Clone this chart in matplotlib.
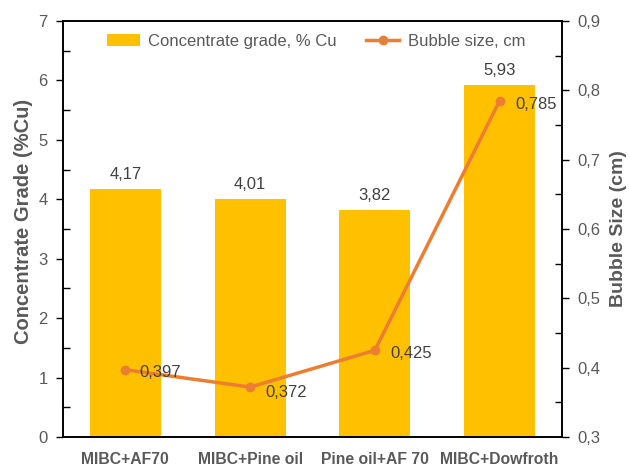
import matplotlib
matplotlib.use("Agg")
import matplotlib.pyplot as plt
from matplotlib.ticker import MultipleLocator, FuncFormatter

categories = ["MIBC+AF70", "MIBC+Pine oil", "Pine oil+AF 70", "MIBC+Dowfroth"]
grade = [4.17, 4.01, 3.82, 5.93]
bubble = [0.397, 0.372, 0.425, 0.785]

plt.rcParams['font.family'] = ['Liberation Sans', 'DejaVu Sans']
grey = '#595959'
dark = '#404040'

fig = plt.figure(figsize=(6.29, 4.66), dpi=100)
L, R, T, B = 63, 562, 21, 437
ax = fig.add_axes([L/629, 1-B/466, (R-L)/629, (B-T)/466])
x = list(range(len(categories)))
bars = ax.bar(x, grade, width=0.57, color='#FFC000', label='Concentrate grade, % Cu', zorder=1)
ax.set_xlim(-0.5, 3.5)
ax.set_ylim(0, 7)
ax.yaxis.set_major_locator(MultipleLocator(1))
ax.yaxis.set_minor_locator(MultipleLocator(0.5))
ax.set_xticks(x)
ax.set_xticklabels(categories, fontweight='bold', fontsize=11.3, color=grey)
ax.tick_params(axis='x', length=0, pad=11)
ax.tick_params(axis='y', which='major', direction='out', length=5, width=1, labelsize=12, colors='black', labelcolor=grey, pad=6)
ax.tick_params(axis='y', which='minor', direction='in', length=5, width=1, colors='black')
ax.set_ylabel('Concentrate Grade (%Cu)', fontweight='bold', fontsize=14.5, color=grey)
ax.yaxis.set_label_coords((33-L)/(R-L), (B-221)/(B-T))
for s in ax.spines.values():
    s.set_linewidth(1.2)
    s.set_color('black')
for xi, g in zip(x, grade):
    ax.annotate(f"{g:.2f}".replace('.', ','), (xi, g), xytext=(0, 5), textcoords='offset points',
                ha='center', va='bottom', fontsize=12, color=dark)

ax2 = ax.twinx()
ax2.set_ylim(0.3, 0.9)
line, = ax2.plot(x, bubble, color='#ED7D31', lw=2.5, marker='o', ms=6, label='Bubble size, cm', zorder=3)
ax2.yaxis.set_major_locator(MultipleLocator(0.1))
ax2.yaxis.set_minor_locator(MultipleLocator(0.05))
ax2.yaxis.set_major_formatter(FuncFormatter(lambda v, p: f"{v:.1f}".replace('.', ',')))
ax2.tick_params(axis='y', which='major', direction='out', length=5, width=1, labelsize=12, colors='black', labelcolor=grey, pad=6)
ax2.tick_params(axis='y', which='minor', direction='in', length=5, width=1, colors='black')
ax2.set_ylabel('Bubble Size (cm)', fontweight='bold', fontsize=14, color=grey, rotation=90)
ax2.yaxis.set_label_coords((610-L)/(R-L), (B-229)/(B-T))
for s in ax2.spines.values():
    s.set_linewidth(1.2)
offs = [(10, -2), (11, -4), (11, -2), (11, -3)]
for xi, b, o in zip(x, bubble, offs):
    ax2.annotate(f"{b:.3f}".replace('.', ','), (xi, b), xytext=o, textcoords='offset points',
                 ha='left', va='center', fontsize=12, color=dark)

ax.legend([bars, line], ['Concentrate grade, % Cu', 'Bubble size, cm'], loc='center',
          bbox_to_anchor=((316-L)/(R-L), 1-(41.5-T)/(B-T)), ncol=2, frameon=False, fontsize=12, labelcolor=grey,
          handlelength=2.0, columnspacing=1.75, handletextpad=0.5, borderaxespad=0, borderpad=0)

fig.savefig('out.png', dpi=100)
